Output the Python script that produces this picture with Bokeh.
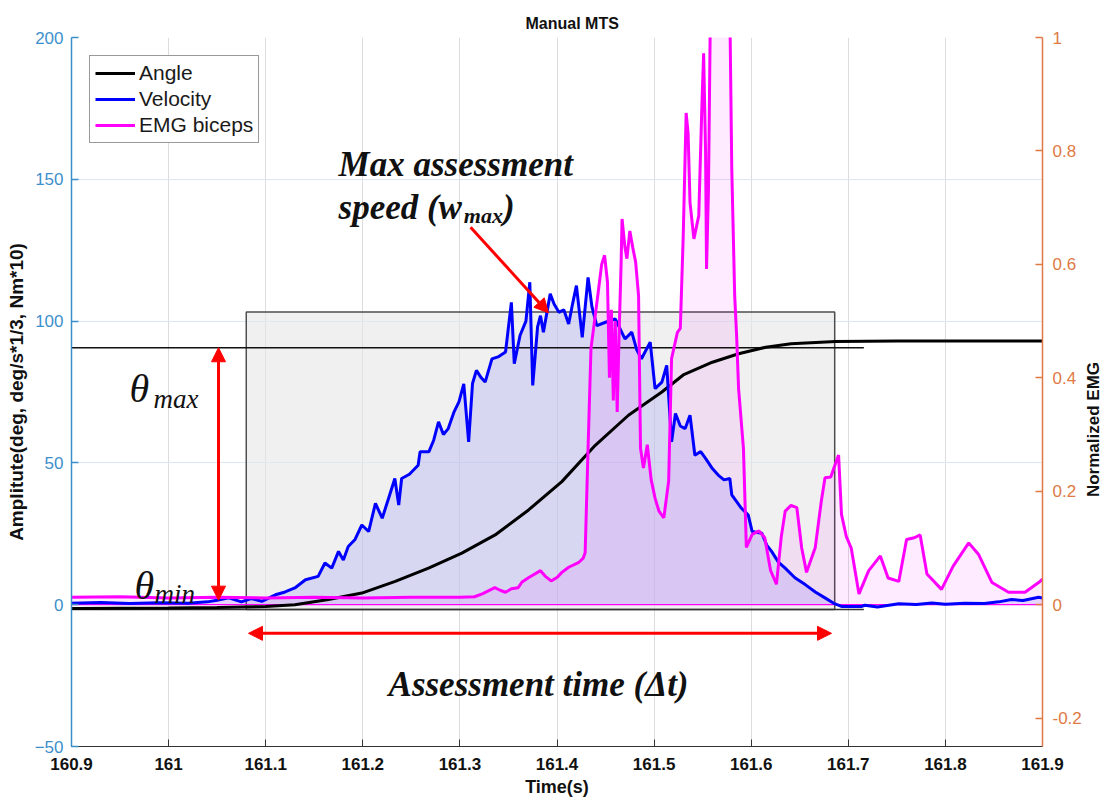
import math
from bokeh.plotting import figure
from bokeh.layouts import row
from bokeh.models import (Range1d, LinearAxis, FixedTicker, CustomJSTickFormatter, Label,
                          Arrow, NormalHead, Legend, LegendItem)
from bokeh.embed import file_html
from bokeh.resources import INLINE

# ---------------- data ----------------
time_angle = [160.900, 161.000, 161.050, 161.100, 161.130, 161.1647, 161.199, 161.2334, 161.2677,
              161.302, 161.3363, 161.3707, 161.405, 161.4394, 161.4736, 161.508, 161.530, 161.560,
              161.587, 161.615, 161.641, 161.687, 161.750, 161.900]
angle = [-1.3, -1.2, -1.0, -0.6, 0.0, 1.8, 4.1, 8.2, 12.9,
         18.2, 24.6, 33.4, 43.4, 56.2, 66.8, 75.0, 81.0, 85.5,
         88.5, 90.8, 92.0, 92.8, 93.0, 93.0]

time_vel = [160.900, 160.930, 160.960, 160.990, 161.020, 161.040, 161.050, 161.062, 161.075, 161.085,
            161.096, 161.110, 161.120, 161.130, 161.141, 161.154, 161.161, 161.168, 161.175, 161.180,
            161.185, 161.192, 161.199, 161.206, 161.213, 161.220, 161.227, 161.233, 161.237, 161.240,
            161.248, 161.257, 161.259, 161.268, 161.273, 161.278, 161.283, 161.288, 161.294, 161.299,
            161.304, 161.309, 161.313, 161.317, 161.322, 161.326, 161.333, 161.340, 161.347, 161.353,
            161.356, 161.362, 161.368, 161.372, 161.375, 161.380, 161.383, 161.386, 161.393, 161.397,
            161.402, 161.407, 161.412, 161.416, 161.420, 161.426, 161.432, 161.436, 161.441, 161.450,
            161.460, 161.470, 161.477, 161.482, 161.487, 161.496, 161.501, 161.508, 161.513, 161.518,
            161.522, 161.527, 161.532, 161.537, 161.542, 161.548, 161.553, 161.560, 161.566, 161.572,
            161.578, 161.580, 161.590, 161.597, 161.601, 161.611, 161.616, 161.621, 161.628, 161.635,
            161.645, 161.656, 161.666, 161.676, 161.685, 161.693, 161.714, 161.717, 161.730, 161.752,
            161.770, 161.786, 161.800, 161.820, 161.840, 161.855, 161.868, 161.880, 161.896, 161.900]
velocity = [0.5, 0.8, 0.4, 0.7, 0.5, 1.0, 1.6, 2.4, 1.0, 2.2,
            1.2, 3.5, 4.5, 5.9, 8.8, 10.0, 14.7, 12.9, 18.8, 15.8,
            20.5, 23.0, 28.1, 25.8, 35.7, 30.5, 38.0, 44.5, 35.1, 44.5,
            46.0, 49.2, 53.9, 53.9, 58.0, 64.5, 60.0, 62.1, 68.0, 71.5,
            77.9, 57.4, 78.0, 82.6, 80.0, 78.5, 86.7, 87.5, 89.1, 106.6,
            85.0, 95.0, 100.0, 113.7, 77.3, 98.0, 101.9, 96.1, 109.6, 106.0,
            103.1, 104.0, 99.0, 106.0, 112.5, 94.3, 115.4, 105.0, 98.4, 99.6,
            100.8, 93.7, 96.1, 90.0, 86.7, 92.6, 76.2, 78.5, 84.4, 57.4,
            67.4, 63.0, 62.1, 66.8, 52.7, 54.0, 51.6, 48.0, 45.7, 44.0,
            44.5, 38.7, 34.0, 31.6, 25.8, 25.2, 21.0, 18.8, 15.0, 12.9,
            9.5, 7.0, 4.5, 2.4, 0.5, -0.6, -0.6, -0.2, -0.8, 0.3,
            0.1, 0.6, 0.2, 0.5, 0.4, 1.0, 1.8, 1.5, 2.6, 2.4]

time_emg = [160.900, 160.950, 161.000, 161.050, 161.100, 161.150, 161.200, 161.250, 161.300, 161.315,
            161.323, 161.336, 161.342, 161.347, 161.353, 161.360, 161.364, 161.371, 161.383, 161.388,
            161.394, 161.400, 161.405, 161.412, 161.422, 161.427, 161.429, 161.432, 161.435, 161.442,
            161.446, 161.449, 161.452, 161.454, 161.456, 161.458, 161.460, 161.462, 161.464, 161.466,
            161.467, 161.470, 161.472, 161.475, 161.478, 161.481, 161.484, 161.486, 161.489, 161.493,
            161.497, 161.501, 161.505, 161.510, 161.515, 161.518, 161.524, 161.527, 161.530, 161.533,
            161.535, 161.537, 161.541, 161.546, 161.549, 161.551, 161.553, 161.554, 161.556, 161.558,
            161.578, 161.580, 161.583, 161.585, 161.587, 161.592, 161.595, 161.601, 161.608, 161.614,
            161.620, 161.626, 161.631, 161.635, 161.641, 161.647, 161.652, 161.657, 161.666, 161.672,
            161.676, 161.682, 161.685, 161.690, 161.693, 161.698, 161.703, 161.711, 161.721, 161.733,
            161.741, 161.752, 161.760, 161.768, 161.774, 161.781, 161.796, 161.808, 161.824, 161.834,
            161.848, 161.865, 161.882, 161.896, 161.900]
emg = [0.013, 0.014, 0.012, 0.013, 0.012, 0.013, 0.012, 0.013, 0.013, 0.014,
       0.019, 0.030, 0.025, 0.022, 0.028, 0.030, 0.040, 0.048, 0.060, 0.050,
       0.042, 0.048, 0.057, 0.066, 0.074, 0.082, 0.092, 0.276, 0.452, 0.545,
       0.600, 0.616, 0.569, 0.400, 0.520, 0.360, 0.500, 0.340, 0.480, 0.600,
       0.680, 0.630, 0.610, 0.659, 0.630, 0.604, 0.545, 0.276, 0.241, 0.282,
       0.220, 0.188, 0.165, 0.153, 0.218, 0.434, 0.480, 0.487, 0.651, 0.867,
       0.832, 0.709, 0.645, 0.686, 0.867, 0.972, 0.800, 0.592, 0.733, 1.050,
       1.050, 0.768, 0.545, 0.474, 0.381, 0.276, 0.101, 0.124, 0.130, 0.118,
       0.060, 0.036, 0.120, 0.165, 0.175, 0.171, 0.100, 0.057, 0.101, 0.180,
       0.224, 0.225, 0.240, 0.264, 0.159, 0.120, 0.100, 0.019, 0.060, 0.086,
       0.047, 0.041, 0.115, 0.118, 0.123, 0.054, 0.027, 0.068, 0.109, 0.089,
       0.039, 0.022, 0.022, 0.039, 0.045]

x_ticks = [160.9, 161.0, 161.1, 161.2, 161.3, 161.4, 161.5, 161.6, 161.7, 161.8, 161.9]
left_ticks = [-50, 0, 50, 100, 150, 200]
right_ticks = [-0.2, 0.0, 0.2, 0.4, 0.6, 0.8, 1.0]

# annotation values (data units)
theta_max_level = 90.6
theta_min_level = 1.6
base_level = -1.7
ref_line_end = 161.716
box_t0, box_t1, box_top = 161.080, 161.686, 103.2
arrow_x = 161.0514
dt_y, dt_t0, dt_t1 = -10.1, 161.0823, 161.6827
wmax_start = (161.311, 133.1)
wmax_end = (161.3912, 102.9)

BLUE_AX = "#3d8fcc"
ORANGE_AX = "#e07a45"
SANS = "Liberation Sans"
SERIF = "Liberation Serif"
DARK = "#111111"

TOTAL_H = 798

p = figure(frame_width=971, frame_height=709,
           x_range=Range1d(160.9, 161.9), y_range=Range1d(-50, 200),
           output_backend="svg", toolbar_location=None,
           min_border_left=71, min_border_right=40, min_border_top=37, min_border_bottom=52)
p.extra_y_ranges = {"emg": Range1d(-0.25, 1.0)}
p.outline_line_color = None
p.background_fill_color = "white"

# title
p.title.text = "Manual MTS"
p.title.align = "left"
p.title.offset = 454
p.title.text_font = SANS
p.title.text_font_style = "bold"
p.title.text_font_size = "16px"
p.title.text_color = DARK
p.title.standoff = 11

fmt = CustomJSTickFormatter(code="return String(Number(tick.toFixed(2)));")

# x axis
xa = p.xaxis[0]
xa.ticker = FixedTicker(ticks=x_ticks)
xa.formatter = fmt
xa.axis_label = "Time(s)"
xa.axis_label_text_font = SANS
xa.axis_label_text_font_style = "bold"
xa.axis_label_text_font_size = "18px"
xa.axis_label_text_color = DARK
xa.axis_label_standoff = 4
xa.major_label_text_font = SANS
xa.major_label_text_font_style = "bold"
xa.major_label_text_font_size = "17px"
xa.major_label_text_color = DARK
xa.major_label_standoff = 11
xa.axis_line_color = "#333333"
xa.axis_line_width = 1.2
xa.major_tick_line_color = "#333333"
xa.major_tick_in = 7
xa.major_tick_out = 0
xa.minor_tick_line_color = None

# left axis
ya = p.yaxis[0]
ya.ticker = FixedTicker(ticks=left_ticks)
ya.axis_label = "Amplitute(deg, deg/s*1/3, Nm*10)"
ya.axis_label_text_font = SANS
ya.axis_label_text_font_style = "bold"
ya.axis_label_text_font_size = "19px"
ya.axis_label_text_color = DARK
ya.axis_label_standoff = 5
ya.major_label_text_font = SANS
ya.major_label_text_font_size = "17px"
ya.major_label_text_color = BLUE_AX
ya.major_label_standoff = 8
ya.axis_line_color = BLUE_AX
ya.axis_line_width = 1.5
ya.major_tick_line_color = BLUE_AX
ya.major_tick_line_width = 1.5
ya.major_tick_in = 7
ya.major_tick_out = 0
ya.minor_tick_line_color = None

# right axis (its title is drawn in a narrow side figure so it reads bottom-to-top)
ra = LinearAxis(y_range_name="emg", ticker=FixedTicker(ticks=right_ticks), formatter=fmt)
ra.major_label_text_font = SANS
ra.major_label_text_font_size = "17px"
ra.major_label_text_color = ORANGE_AX
ra.major_label_standoff = 10
ra.axis_line_color = ORANGE_AX
ra.axis_line_width = 1.5
ra.major_tick_line_color = ORANGE_AX
ra.major_tick_line_width = 1.5
ra.major_tick_in = 7
ra.major_tick_out = 0
ra.minor_tick_line_color = None
p.add_layout(ra, "right")

# grids
p.xgrid.ticker = FixedTicker(ticks=x_ticks)
p.xgrid.grid_line_color = "#dcdcdc"
p.xgrid.grid_line_width = 1
p.ygrid.ticker = FixedTicker(ticks=left_ticks)
p.ygrid.grid_line_color = "#d9e8f4"
p.ygrid.grid_line_width = 1

# assessment box
p.quad(left=box_t0, right=box_t1, bottom=base_level, top=box_top,
       fill_color="#e6e6e6", fill_alpha=0.6, line_color="#4d4d4d", line_width=1.5)

# fills
p.varea(x=time_vel, y1=0, y2=velocity, fill_color="#0000ff", fill_alpha=0.10)
p.varea(x=time_emg, y1=0, y2=emg, y_range_name="emg", fill_color="#ff00ff", fill_alpha=0.08)
p.line([160.9, 161.9], [0, 0], y_range_name="emg", line_color="#ff00ff", line_width=1.2)

# reference lines
p.line([160.9, ref_line_end], [theta_max_level, theta_max_level], line_color="#111111", line_width=1.3)
p.line([160.9, ref_line_end], [base_level, base_level], line_color="#333333", line_width=1.3)

# series
r_angle = p.line(time_angle, angle, line_color="black", line_width=3)
r_vel = p.line(time_vel, velocity, line_color="#0000ff", line_width=3)
r_emg = p.line(time_emg, emg, y_range_name="emg", line_color="#ff00ff", line_width=3)

# red arrows
def head():
    return NormalHead(size=14, fill_color="#ff0000", line_color="#ff0000", line_width=1)

p.add_layout(Arrow(x_start=arrow_x, y_start=theta_min_level, x_end=arrow_x, y_end=theta_max_level,
                   start=head(), end=head(), line_color="#ff0000", line_width=3))
p.add_layout(Arrow(x_start=dt_t0, y_start=dt_y, x_end=dt_t1, y_end=dt_y,
                   start=head(), end=head(), line_color="#ff0000", line_width=3))
p.add_layout(Arrow(x_start=wmax_start[0], y_start=wmax_start[1], x_end=wmax_end[0], y_end=wmax_end[1],
                   end=head(), line_color="#ff0000", line_width=3))

# annotation texts
def lab(x, y, text, size, style="bold italic", font=SERIF):
    p.add_layout(Label(x=x, y=y, text=text, text_font=font, text_font_style=style,
                       text_font_size=size, text_color=DARK,
                       text_align="left", text_baseline="alphabetic"))

lab(161.175, 155.3, "Max assessment", "35px")
lab(161.175, 140.1, "speed (w", "35px")
lab(161.3040, 137.3, "max", "22px")
lab(161.3445, 140.1, ")", "35px")
lab(160.9597, 76.2, "θ", "40px", style="italic")
lab(160.9844, 72.7, "max", "27px", style="italic")
lab(160.9649, 6.9, "θ", "40px", style="italic")
lab(160.9855, 3.8, "min", "27px", style="italic")
lab(161.2265, -28.2, "Assessment time (Δt)", "35px")

# legend
legend = Legend(items=[LegendItem(label="Angle", renderers=[r_angle]),
                       LegendItem(label="Velocity", renderers=[r_vel]),
                       LegendItem(label="EMG biceps", renderers=[r_emg])],
                location="top_left", margin=18, padding=5, spacing=2,
                glyph_width=40, glyph_height=20, label_standoff=4, label_height=20,
                label_text_font=SANS, label_text_font_size="21px", label_text_color="#1a1a1a",
                border_line_color="#333333", border_line_width=1, background_fill_color="white",
                background_fill_alpha=1.0)
p.add_layout(legend)

# narrow strip holding the right-axis title
side_w = 24
p2 = figure(frame_width=side_w, frame_height=TOTAL_H,
            x_range=Range1d(0, side_w), y_range=Range1d(0, TOTAL_H),
            x_axis_type=None, y_axis_type=None, output_backend="svg", toolbar_location=None,
            min_border=0)
p2.outline_line_color = None
p2.add_layout(Label(x=9, y=TOTAL_H - 392, text="Normalized EMG", angle=math.pi / 2,
                    text_font=SANS, text_font_style="bold", text_font_size="17px",
                    text_color=DARK, text_align="center", text_baseline="middle"))

layout = row(p, p2, spacing=0)
open("out.html", "w").write(file_html(layout, INLINE))
